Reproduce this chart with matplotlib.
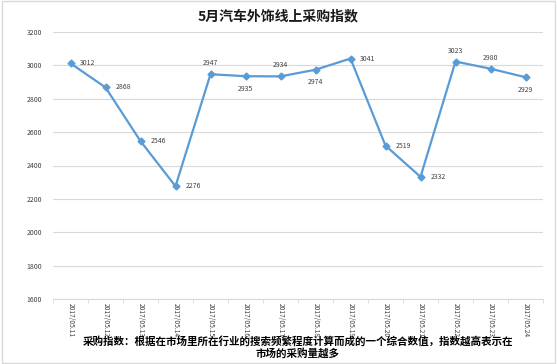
import matplotlib.pyplot as plt
from matplotlib.patches import Rectangle

plt.rcParams['font.family'] = ['Noto Sans CJK SC', 'DejaVu Sans']

dates = ['2017/05.11', '2017/05.12', '2017/05.13', '2017/05.14', '2017/05.15',
         '2017/05.16', '2017/05.17', '2017/05.18', '2017/05.19', '2017/05.20',
         '2017/05.21', '2017/05.22', '2017/05.23', '2017/05.24']
values = [3012, 2868, 2546, 2276, 2947, 2935, 2934, 2974, 3041, 2519, 2332, 3023, 2980, 2929]
label_pos = ['r', 'r', 'r', 'r', 'a', 'b', 'a', 'b', 'r', 'r', 'r', 'a', 'a', 'b']

fig = plt.figure(figsize=(5.57, 3.64), dpi=100)
fig.patches.append(Rectangle((0.003, 0.003), 0.994, 0.994, transform=fig.transFigure,
                             fill=False, edgecolor='#d9d9d9', linewidth=1))
ax = fig.add_axes([53 / 557, 65 / 364, 490 / 557, 267 / 364])

x = list(range(len(dates)))
ax.plot(x, values, color='#5b9bd5', linewidth=1.6, marker='D', markersize=3.5)

for i, v in enumerate(values):
    p = label_pos[i]
    if p == 'r':
        ax.annotate(str(v), (i, v), xytext=(7, 0), textcoords='offset points',
                    ha='left', va='center', fontsize=5, color='#404040')
    elif p == 'a':
        ax.annotate(str(v), (i, v), xytext=(0, 5), textcoords='offset points',
                    ha='center', va='bottom', fontsize=5, color='#404040')
    else:
        ax.annotate(str(v), (i, v), xytext=(0, -6), textcoords='offset points',
                    ha='center', va='top', fontsize=5, color='#404040')

ax.set_xlim(-0.5, len(dates) - 0.5)
ax.set_ylim(1600, 3200)
ax.set_yticks(range(1600, 3201, 200))
ax.tick_params(axis='y', labelsize=5, length=0, labelcolor='#404040', pad=8)
ax.set_xticks(x)
ax.set_xticklabels(dates, rotation=270, fontsize=4.8, color='#404040')
ax.set_xticks([i + 0.5 for i in range(-1, len(dates))], minor=True)
ax.tick_params(axis='x', which='major', length=0, pad=3)
ax.tick_params(axis='x', which='minor', length=3, color='#d9d9d9')
ax.grid(axis='y', color='#d9d9d9', linewidth=0.8)
ax.set_axisbelow(True)
for s in ['top', 'right', 'left']:
    ax.spines[s].set_visible(False)
ax.spines['bottom'].set_color('#d9d9d9')

fig.text(0.5, 1 - 16 / 364, '5月汽车外饰线上采购指数', ha='center', va='center',
         fontsize=10, fontweight='bold', color='#1a1a1a')
fig.text(298 / 557, 1 - 347 / 364,
         '采购指数：根据在市场里所在行业的搜索频繁程度计算而成的一个综合数值，指数越高表示在\n市场的采购量越多',
         ha='center', va='center', fontsize=7.6, fontweight='bold', color='#000000',
         linespacing=1.15, zorder=5)

fig.savefig('out.png', dpi=100)
